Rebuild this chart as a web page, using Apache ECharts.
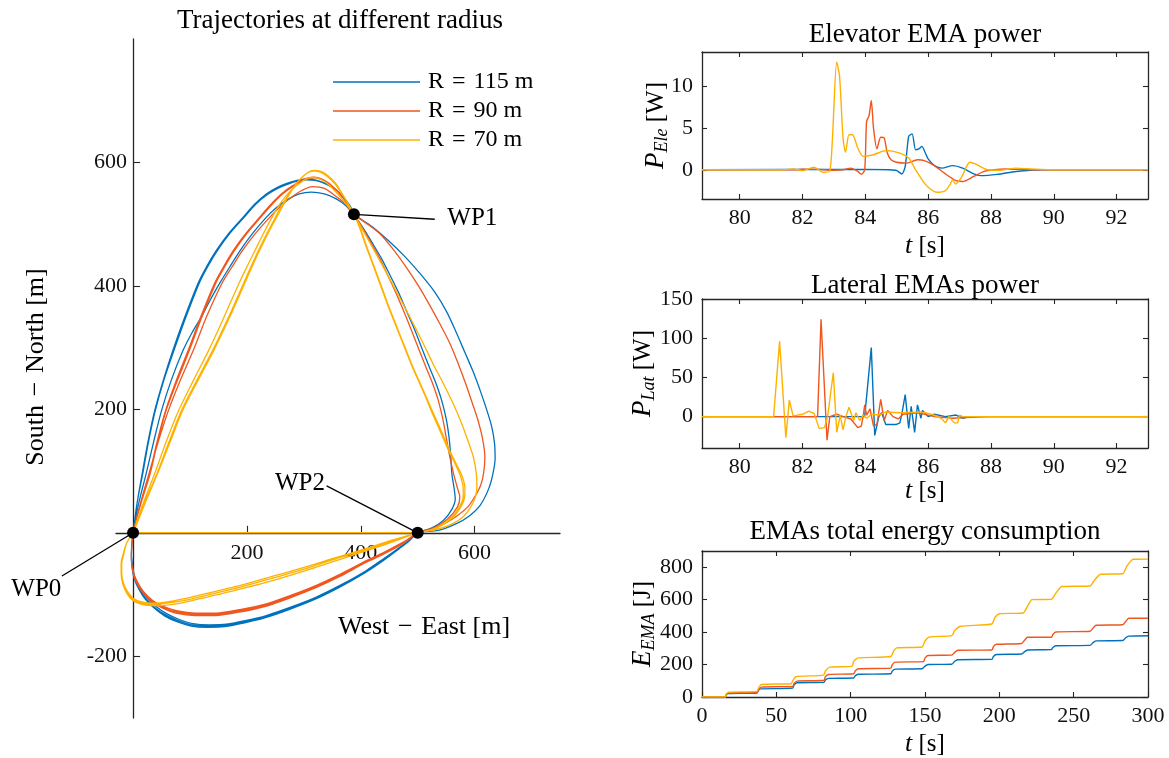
<!DOCTYPE html>
<html>
<head>
<meta charset="utf-8">
<script src="https://cdn.jsdelivr.net/npm/echarts@6/dist/echarts.min.js"></script>
<style>
  html, body { margin: 0; padding: 0; background: #ffffff; }
  #chart { width: 1169px; height: 758px; }
</style>
</head>
<body>
<div id="chart"></div>
<script>
// ---------- data ----------
// Flight path segments (West-East, South-North) in metres.
// Each lap: WP0 -> WP1 (top), WP1 -> WP2 (right), WP2 -> WP0 (bottom).
const top115a = [[0,0],[10,48],[23,96],[36,147],[50,198],[67,247],[88,296],[104,325],[120,350],[136,378],[152,404],[170,431],[188,457],[210,485],[234,511],[252,527],[270,539],[292,549],[313,552],[336,549],[357,541],[374,530],[388,516]];
const top115b = [[0,0],[7,48],[16,96],[26,147],[38,198],[53,247],[70,296],[91,350],[114,404],[129,431],[146,457],[168,485],[193,511],[213,532],[234,549],[252,559],[270,566],[288,571],[305,573],[323,571],[340,565],[356,556],[369,544],[380,530],[388,516]];
const top115c = [[0,0],[7,48],[17,96],[27,147],[39,198],[54,247],[72,296],[93,350],[116,404],[131,431],[148,457],[170,485],[195,511],[215,532],[236,548],[254,558],[272,565],[290,570],[306,572],[324,570],[341,564],[357,555],[370,543],[381,530],[388,516]];
const right115a = [[388,516],[420,496],[448,474],[478,447],[505,419],[530,390],[551,358],[568,324],[583,292],[597,262],[610,230],[621,200],[630,172],[635,145],[636,120],[632,95],[625,72],[610,45],[590,27],[568,15],[536,4],[500,0]];
const right115b = [[388,516],[404,494],[420,470],[436,445],[451,418],[466,390],[480,360],[495,328],[509,295],[522,265],[533,240],[542,215],[550,185],[555,155],[558,125],[560,96],[564,72],[566,55],[560,38],[545,20],[525,8],[500,0]];
const bottom115a = [[500,0],[485,-12],[469,-23],[440,-42],[410,-61],[366,-84],[322,-104],[278,-120],[234,-134],[199,-142],[164,-148],[134,-149],[105,-147],[80,-140],[59,-131],[40,-119],[24,-104],[12,-88],[3,-72],[-1,-52],[-3,-34],[-2,-16],[0,0]];
const bottom115b = [[500,0],[485,-13],[468,-25],[439,-44],[408,-63],[364,-86],[320,-106],[276,-122],[232,-136],[197,-144],[162,-150],[132,-151],[103,-149],[78,-142],[57,-133],[38,-121],[22,-106],[11,-90],[2,-73],[-2,-53],[-3,-35],[-2,-17],[0,0]];
const bottom115c = [[500,0],[484,-14],[467,-26],[438,-46],[407,-65],[363,-88],[319,-108],[275,-124],[231,-138],[196,-146],[161,-152],[131,-153],[102,-151],[77,-144],[56,-135],[37,-122],[21,-107],[10,-91],[2,-74],[-2,-54],[-3,-36],[-2,-17],[0,0]];

const top90a = [[0,0],[13,48],[28,96],[44,147],[62,198],[83,247],[106,296],[129,350],[156,404],[174,431],[192,457],[215,485],[240,511],[260,530],[280,545],[297,555],[315,561],[336,558],[355,546],[373,533],[388,516]];
const top90b = [[0,0],[13,48],[29,96],[42,147],[57,198],[76,247],[97,296],[119,350],[143,404],[159,431],[176,457],[198,485],[222,511],[242,532],[262,550],[280,562],[300,573],[318,576],[336,571],[352,560],[371,540],[388,516]];
const top90c = [[0,0],[14,48],[30,96],[43,147],[58,198],[78,247],[99,296],[121,350],[145,404],[161,431],[178,457],[200,485],[224,511],[244,532],[264,550],[282,562],[301,572],[319,575],[337,570],[353,559],[371,540],[388,516]];
const right90a = [[388,516],[412,500],[434,484],[458,458],[480,430],[500,402],[516,377],[537,342],[557,306],[572,272],[585,240],[596,210],[606,182],[614,152],[618,122],[616,98],[611,78],[600,58],[588,42],[570,28],[551,17],[525,7],[500,0]];
const right90b = [[388,516],[403,494],[418,470],[433,445],[447,418],[461,390],[475,360],[489,328],[503,295],[516,265],[527,240],[536,215],[544,185],[550,155],[556,125],[563,96],[570,72],[574,58],[570,42],[552,22],[530,9],[500,0]];
const bottom90a = [[500,0],[485,-9],[469,-18],[440,-32],[410,-45],[366,-66],[322,-85],[278,-101],[234,-115],[190,-124],[146,-130],[110,-130],[76,-126],[53,-119],[35,-110],[18,-95],[6,-77],[-1,-58],[-3,-40],[-2,-20],[0,0]];
const bottom90b = [[500,0],[485,-10],[469,-20],[440,-34],[410,-47],[366,-68],[322,-87],[278,-103],[234,-117],[190,-126],[146,-132],[110,-132],[76,-128],[53,-121],[35,-112],[18,-96],[6,-78],[-1,-59],[-3,-40],[-2,-20],[0,0]];
const bottom90c = [[500,0],[484,-11],[468,-21],[439,-35],[409,-48],[365,-70],[321,-89],[277,-105],[233,-119],[189,-128],[145,-134],[109,-134],[75,-130],[52,-122],[34,-113],[17,-97],[5,-79],[-1,-60],[-3,-41],[-2,-20],[0,0]];

const top70a = [[0,0],[18,48],[38,96],[58,147],[80,198],[106,247],[133,296],[160,350],[186,404],[200,431],[214,457],[229,485],[244,511],[256,530],[268,545],[280,557],[292,566],[304,573],[316,576],[331,572],[346,562],[368,540],[388,516]];
const top70b = [[0,0],[20,48],[42,96],[63,147],[85,198],[112,247],[140,296],[168,350],[194,404],[207,431],[220,457],[235,485],[250,511],[263,533],[276,552],[287,566],[298,577],[308,584],[318,586],[330,584],[342,577],[355,565],[366,550],[378,533],[388,516]];
const top70c = [[0,0],[21,48],[43,96],[65,147],[87,198],[114,247],[142,296],[170,350],[196,404],[209,431],[222,457],[237,485],[252,511],[265,533],[277,552],[288,567],[299,578],[309,585],[319,587],[331,585],[343,578],[356,566],[367,550],[378,533],[388,516]];
const right70a = [[388,516],[405,488],[422,460],[440,430],[462,392],[486,350],[508,310],[528,272],[545,242],[562,210],[576,180],[588,150],[598,122],[603,96],[604,75],[601,57],[592,40],[580,26],[560,14],[532,5],[500,0]];
const right70b = [[388,516],[398,494],[407,470],[417,445],[427,420],[439,390],[451,360],[464,330],[477,300],[490,270],[502,245],[514,220],[525,195],[537,170],[551,140],[565,113],[575,92],[580,72],[580,58],[572,40],[560,26],[545,15],[527,6],[500,0]];
const right70c = [[388,516],[399,494],[408,470],[418,445],[428,420],[440,390],[452,360],[465,330],[478,300],[491,270],[503,245],[515,220],[527,195],[539,170],[553,140],[567,113],[578,92],[583,72],[582,56],[574,39],[562,25],[546,14],[528,6],[500,0]];
const bottom70a = [[500,0],[455,-15],[410,-29],[350,-47],[293,-64],[235,-80],[176,-94],[130,-104],[88,-113],[60,-117],[35,-118],[15,-116],[0,-110],[-11,-98],[-18,-83],[-21,-66],[-20,-50],[-17,-33],[-12,-18],[-6,-8],[0,0]];
const bottom70b = [[500,0],[455,-13],[410,-27],[350,-44],[293,-61],[235,-76],[176,-91],[130,-101],[88,-110],[60,-114],[35,-116],[15,-114],[0,-108],[-11,-96],[-18,-82],[-21,-66],[-21,-50],[-17,-33],[-12,-18],[-6,-8],[0,0]];
const bottom70c = [[500,0],[455,-12],[410,-25],[350,-42],[293,-58],[235,-73],[176,-88],[130,-98],[88,-107],[60,-112],[35,-114],[15,-112],[0,-106],[-10,-95],[-17,-81],[-20,-65],[-20,-50],[-16,-33],[-12,-18],[-6,-8],[0,0]];

const straightLeg70 = [[0,0],[500,0]];

const traj115 = [].concat(top115a, right115a, bottom115a, top115b, right115b, bottom115b, top115c, right115b, bottom115c);
const traj90 = [].concat(top90a, right90a, bottom90a, top90b, right90b, bottom90b, top90c, right90b, bottom90c);
const traj70 = [].concat(top70a, right70a, bottom70a, top70b, right70b, bottom70b, top70c, right70c, bottom70c);

const wpNames = ['WP0', 'WP1', 'WP2'];
const wpPoints = [[0,0],[388,516],[500,0]];
const wpLeaderEnds = [[-125,-70],[530,508],[340,76]];
const wpTextAnchors = [[-170,-91],[552,509],[337,80]];

// Elevator EMA power [W] over t [s]
const pEle115 = [[78.8,0],[84.0,0.05],[84.77,0],[85.0,-0.1],[85.16,-0.5],[85.27,0.4],[85.38,4.0],[85.49,4.3],[85.6,2.4],[85.7,2.5],[85.8,2.8],[85.9,2.1],[86.0,1.3],[86.2,0.5],[86.44,0.2],[86.78,0.5],[87.1,0.2],[87.45,-0.5],[87.67,-0.7],[88.2,-0.55],[88.8,-0.2],[89.6,0],[93,0]];
const pEle90 = [[78.8,0],[81.8,0],[82.0,0.08],[82.5,0.05],[83.0,-0.05],[83.3,0],[83.54,0.2],[83.76,-0.2],[83.87,-0.55],[83.98,0],[84.04,5.8],[84.12,6.5],[84.19,8.3],[84.26,5],[84.37,2.5],[84.49,3.9],[84.6,3.8],[84.7,2],[84.82,1.2],[84.99,0.9],[85.32,0.8],[85.66,1.2],[85.88,1.1],[86.2,0.5],[86.55,-0.5],[86.89,-1.3],[87.1,-1.4],[87.45,-0.8],[87.78,-0.2],[88.1,0],[88.45,0.1],[89,0.05],[89.6,0],[93,0]];
const pEle70 = [[78.8,0],[81.4,0],[81.7,0.1],[82.0,-0.1],[82.37,0.3],[82.65,-0.3],[82.87,-0.2],[83.09,12.9],[83.18,11.2],[83.29,3.8],[83.37,2.1],[83.48,4.2],[83.59,4.2],[83.76,2.6],[83.93,1.6],[84.26,1.8],[84.66,2.3],[85.1,2.0],[85.38,1.4],[85.6,0],[85.88,-1.6],[86.1,-2.4],[86.27,-2.7],[86.55,-2.5],[86.72,-1.6],[86.78,-1.2],[86.87,-1.7],[87.06,-0.9],[87.33,0.9],[87.5,0.7],[87.9,0],[88.3,-0.05],[88.8,0.2],[89.3,0.1],[90,0],[93,0]];

// Lateral EMAs power [W] over t [s]
const pLat115 = [[78.8,0],[83.98,0],[84.19,88],[84.3,-24],[84.43,0],[84.52,5],[84.65,-10],[84.99,-10],[85.1,-8],[85.16,3],[85.27,28],[85.38,-15],[85.46,13],[85.57,-20],[85.66,15],[85.77,-2],[85.82,8],[86.0,0],[86.2,3],[86.55,0],[86.89,2],[87.1,-2],[87.33,0],[88,0],[93,0]];
const pLat90 = [[78.8,0],[82.48,0],[82.59,124],[82.78,-30],[82.87,0],[83.09,3],[83.3,0],[83.54,-3],[83.76,-14],[83.87,-12],[83.93,0],[83.98,15],[84.04,2],[84.15,10],[84.26,-12],[84.37,-10],[84.49,22],[84.6,-5],[84.71,8],[84.88,0],[85.05,-3],[85.2,3],[85.66,5],[86.0,2],[86.2,0],[86.78,-2],[87.33,-1],[87.9,0],[93,0]];
const pLat70 = [[78.8,0],[81.08,0],[81.27,96],[81.47,-27],[81.58,21],[81.7,1],[82.0,3],[82.2,7],[82.37,4],[82.53,-15],[82.7,-14],[82.8,0],[82.98,56],[83.09,-20],[83.2,2],[83.29,-17],[83.38,0],[83.48,12],[83.63,-5],[83.7,5],[83.82,-5],[83.93,2],[84.04,-2],[84.2,3],[84.43,2],[84.65,6],[85.1,5],[85.77,6],[86.0,4],[86.2,2],[86.44,-3],[86.55,-8],[86.66,0],[86.72,2],[86.83,-8],[86.94,-8],[87.0,2],[87.1,0],[93,0]];

// Cumulative EMA energy [J] over t [s]
const e115 = [[0,0],[15.8,0],[16.5,16],[18,22],[37,25],[38,40],[39,50],[61,55],[62,75],[64,88],[82,90],[83,105],[85,115],[102,117],[103,130],[105,140],[127,143],[128,160],[130,172],[148,174],[150,190],[152,200],[168,202],[170,220],[172,230],[195,232],[196,250],[198,262],[215,265],[217,280],[219,290],[235,292],[236,305],[238,316],[261,318],[263,335],[265,346],[283,348],[285,365],[287,375],[300,378]];
const e90 = [[0,0],[15.8,0],[16.5,18],[18,25],[37,28],[38,45],[40,61],[61,65],[62,85],[64,98],[82,103],[83,125],[85,139],[102,143],[103,160],[105,174],[127,178],[128,200],[130,215],[149,218],[150,240],[152,256],[168,258],[170,275],[172,288],[195,290],[196,310],[198,325],[215,330],[217,350],[219,368],[235,368],[236,385],[238,401],[261,405],[263,425],[265,442],[283,445],[285,465],[287,485],[300,485]];
const e70 = [[0,0],[15.8,0],[16.5,20],[18,30],[37,35],[38,55],[40,77],[60,82],[61,100],[63,125],[81.7,135],[83,160],[86,184],[101,190],[102,220],[105,241],[127,250],[129,285],[131,303],[148,308],[150,345],[153,370],[168,378],[170,410],[174,436],[195,450],[197,490],[200,513],[216,518],[219,560],[222,600],[235,602],[238,640],[242,681],[261,684],[264,720],[268,757],[283,760],[286,810],[290,849],[300,850]];

// tick values
const trajXTicks = [200, 400, 600];
const trajYTicks = [-200, 200, 400, 600];
const powerTTicks = [80, 82, 84, 86, 88, 90, 92];
const eleTicks = [0, 5, 10];
const latTicks = [0, 50, 100, 150];
const energyTTicks = [0, 50, 100, 150, 200, 250, 300];
const energyTicks = [0, 200, 400, 600, 800];

const seriesNames = ['R\u2004=\u2004115 m', 'R\u2004=\u200490 m', 'R\u2004=\u200470 m'];

// ---------- style ----------
const FONT = "'Liberation Serif', 'Times New Roman', serif";
const AX = '#262626';
const C115 = '#0072BD';
const C90 = '#F0561D';
const C70 = '#FFB100';

const GRID = {
  traj: { left: 116, top: 39, width: 444, height: 679 },
  ele:  { left: 702, top: 52, width: 446, height: 147 },
  lat:  { left: 702, top: 299, width: 446, height: 149 },
  en:   { left: 702, top: 551, width: 446, height: 146 }
};
const TRAJ_X = [-30, 750];
const TRAJ_Y = [-300, 800];
// the trajectory axes cross at the origin
const xAxisShift = -GRID.traj.height * (0 - TRAJ_Y[0]) / (TRAJ_Y[1] - TRAJ_Y[0]);
const yAxisShift = -GRID.traj.width * (0 - TRAJ_X[0]) / (TRAJ_X[1] - TRAJ_X[0]);

function axisBase(gridIndex, range, ticks, position, labels, tickLen, margin, offset) {
  return {
    type: 'value', gridIndex, min: range[0], max: range[1], position, offset: offset || 0,
    splitLine: { show: false },
    axisLine: { show: true, onZero: false, lineStyle: { color: AX, width: 1.3 } },
    axisTick: { show: true, inside: true, length: tickLen, customValues: ticks, lineStyle: { color: AX, width: 1.1 } },
    axisLabel: { show: labels, customValues: ticks, color: '#111', fontSize: 22, fontFamily: FONT, margin }
  };
}
const T_RANGE = [78.8, 93];
const ELE_RANGE = [-3.5, 14.1];
const LAT_RANGE = [-40, 150];
const E_T_RANGE = [0, 300];
const E_RANGE = [0, 900];

const xAxes = [
  axisBase(0, TRAJ_X, trajXTicks, 'bottom', true, 7, 9, xAxisShift),
  axisBase(1, T_RANGE, powerTTicks, 'bottom', true, 5, 8),
  axisBase(1, T_RANGE, powerTTicks, 'top', false, 5, 8),
  axisBase(2, T_RANGE, powerTTicks, 'bottom', true, 5, 8),
  axisBase(2, T_RANGE, powerTTicks, 'top', false, 5, 8),
  axisBase(3, E_T_RANGE, energyTTicks, 'bottom', true, 5, 8),
  axisBase(3, E_T_RANGE, energyTTicks, 'top', false, 5, 8)
];
const yAxes = [
  axisBase(0, TRAJ_Y, trajYTicks, 'left', true, 7, 6, yAxisShift),
  axisBase(1, ELE_RANGE, eleTicks, 'left', true, 5, 9),
  axisBase(1, ELE_RANGE, eleTicks, 'right', false, 5, 9),
  axisBase(2, LAT_RANGE, latTicks, 'left', true, 5, 9),
  axisBase(2, LAT_RANGE, latTicks, 'right', false, 5, 9),
  axisBase(3, E_RANGE, energyTicks, 'left', true, 5, 9),
  axisBase(3, E_RANGE, energyTicks, 'right', false, 5, 9)
];

function lineSeries(name, data, color, xi, yi, smooth, width, z) {
  return {
    type: 'line', name, data, xAxisIndex: xi, yAxisIndex: yi,
    showSymbol: false, symbol: 'none', smooth: smooth, silent: true,
    lineStyle: { color, width: width }, itemStyle: { color }, z: z || 2
  };
}

const series = [
  lineSeries(seriesNames[0], traj115, C115, 0, 0, 0.3, 1.3, 2),
  lineSeries(seriesNames[1], traj90, C90, 0, 0, 0.3, 1.3, 3),
  lineSeries(seriesNames[2], traj70, C70, 0, 0, 0.3, 1.3, 4),
  lineSeries(seriesNames[2], straightLeg70, C70, 0, 0, false, 1.6, 4),
  lineSeries(seriesNames[0], pEle115, C115, 1, 1, 0.25, 1.4, 2),
  lineSeries(seriesNames[1], pEle90, C90, 1, 1, 0.25, 1.4, 3),
  lineSeries(seriesNames[2], pEle70, C70, 1, 1, 0.25, 1.4, 4),
  lineSeries(seriesNames[0], pLat115, C115, 3, 3, false, 1.4, 2),
  lineSeries(seriesNames[1], pLat90, C90, 3, 3, false, 1.4, 3),
  lineSeries(seriesNames[2], pLat70, C70, 3, 3, false, 1.4, 4),
  lineSeries(seriesNames[0], e115, C115, 5, 5, 0.2, 1.4, 2),
  lineSeries(seriesNames[1], e90, C90, 5, 5, 0.2, 1.4, 3),
  lineSeries(seriesNames[2], e70, C70, 5, 5, 0.2, 1.4, 4),
  {
    type: 'scatter', data: wpPoints, xAxisIndex: 0, yAxisIndex: 0,
    symbol: 'circle', symbolSize: 12, itemStyle: { color: '#000', opacity: 1 }, silent: true, z: 10
  }
];

const chart = echarts.init(document.getElementById('chart'));
chart.setOption({
  animation: false,
  backgroundColor: '#ffffff',
  textStyle: { fontFamily: FONT },
  grid: [GRID.traj, GRID.ele, GRID.lat, GRID.en].map(function (g) { return Object.assign({ containLabel: false }, g); }),
  legend: {
    data: seriesNames, orient: 'vertical', left: 333, top: 70, padding: 0,
    icon: 'rect', itemWidth: 87, itemHeight: 1.6, itemGap: 5,
    textStyle: { fontSize: 24, fontFamily: FONT, color: '#000', padding: [0, 0, 0, 3] },
    selectedMode: false
  },
  xAxis: xAxes,
  yAxis: yAxes,
  series: series
});

// ---------- texts and waypoint call-outs ----------
function txt(text, x, y, opts) {
  const o = Object.assign({ size: 22, align: 'center', rot: 0, rich: null }, opts || {});
  const style = {
    text: text, fill: '#000', fontSize: o.size, fontFamily: FONT,
    align: o.align, verticalAlign: 'middle', textAlign: o.align, textVerticalAlign: 'middle'
  };
  if (o.rich) style.rich = o.rich;
  return { type: 'text', x: x, y: y, rotation: o.rot, style: style, z: 20, silent: true };
}
const richSub = {
  i: { fontStyle: 'italic', fontSize: 27, fontFamily: FONT, fill: '#000' },
  s: { fontStyle: 'italic', fontSize: 18, fontFamily: FONT, fill: '#000', padding: [13, 0, 0, 0] },
  n: { fontSize: 25, fontFamily: FONT, fill: '#000' }
};
const richT = {
  i: { fontStyle: 'italic', fontSize: 26, fontFamily: FONT, fill: '#000' },
  n: { fontSize: 25, fontFamily: FONT, fill: '#000' }
};
const midX = GRID.ele.left + GRID.ele.width / 2;
const R90 = Math.PI / 2;
const TITLE = 27;

const graphics = [
  txt('Trajectories at different radius', 340, 21, { size: TITLE }),
  txt('Elevator EMA power', midX, 35, { size: TITLE }),
  txt('Lateral EMAs power', midX, 286, { size: TITLE }),
  txt('EMAs total energy consumption', midX, 532, { size: TITLE }),
  txt('West\u2004\u2212\u2004East [m]', 424, 627, { size: 26 }),
  txt('South\u2004\u2212\u2004North [m]', 36, 367, { rot: R90, size: 26 }),
  txt('{i|t}{n| [s]}', midX, 246, { rich: richT }),
  txt('{i|t}{n| [s]}', midX, 491, { rich: richT }),
  txt('{i|t}{n| [s]}', midX, 744, { rich: richT }),
  txt('{i|P}{s|Ele}{n| [W]}', 656, GRID.ele.top + GRID.ele.height / 2, { rot: R90, rich: richSub }),
  txt('{i|P}{s|Lat}{n| [W]}', 643, GRID.lat.top + GRID.lat.height / 2, { rot: R90, rich: richSub }),
  txt('{i|E}{s|EMA}{n| [J]}', 643, GRID.en.top + GRID.en.height / 2, { rot: R90, rich: richSub })
];
const toPx = function (p) { return chart.convertToPixel({ xAxisIndex: 0, yAxisIndex: 0 }, p); };
wpNames.forEach(function (name, i) {
  const a = toPx(wpPoints[i]);
  const b = toPx(wpLeaderEnds[i]);
  graphics.push({
    type: 'line', shape: { x1: a[0], y1: a[1], x2: b[0], y2: b[1] },
    style: { stroke: '#000', lineWidth: 1.3 }, z: 15, silent: true
  });
  const p = toPx(wpTextAnchors[i]);
  const align = i === 0 ? 'center' : (i === 1 ? 'left' : 'right');
  graphics.push(txt(name, p[0], p[1], { align: align, size: 25 }));
});
chart.setOption({ graphic: graphics });
</script>
</body>
</html>
